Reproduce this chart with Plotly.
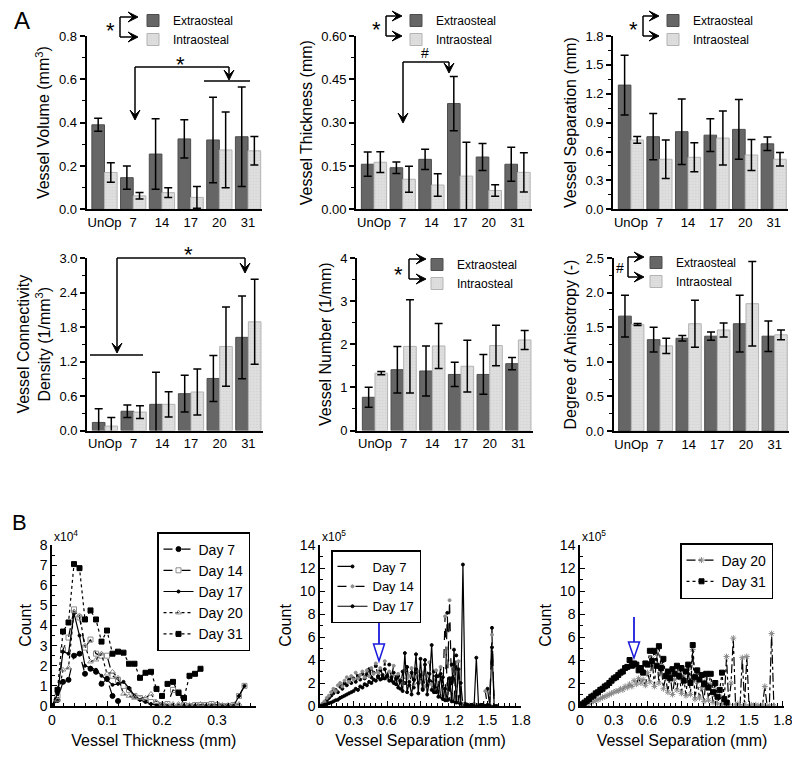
import plotly.graph_objects as go

# ---------------- data: panel A (bar charts) ----------------
CATEGORIES = ["UnOp", "7", "14", "17", "20", "31"]
CAT_X = [0, 1, 2, 3, 4, 5]

VOLUME_EXTRA = [0.39, 0.146, 0.255, 0.325, 0.32, 0.335]
VOLUME_EXTRA_ERR = [0.03, 0.054, 0.163, 0.088, 0.197, 0.23]
VOLUME_INTRA = [0.17, 0.062, 0.077, 0.055, 0.274, 0.27]
VOLUME_INTRA_ERR = [0.045, 0.015, 0.022, 0.05, 0.175, 0.066]

THICK_EXTRA = [0.156, 0.144, 0.173, 0.366, 0.181, 0.156]
THICK_EXTRA_ERR = [0.042, 0.02, 0.035, 0.094, 0.047, 0.059]
THICK_INTRA = [0.163, 0.104, 0.084, 0.115, 0.065, 0.128]
THICK_INTRA_ERR = [0.036, 0.045, 0.039, 0.117, 0.02, 0.068]

SEP_EXTRA = [1.29, 0.754, 0.806, 0.77, 0.83, 0.68]
SEP_EXTRA_ERR = [0.31, 0.24, 0.34, 0.17, 0.31, 0.07]
SEP_INTRA = [0.72, 0.52, 0.54, 0.74, 0.564, 0.52]
SEP_INTRA_ERR = [0.035, 0.2, 0.15, 0.28, 0.16, 0.07]

CONN_EXTRA = [0.14, 0.335, 0.455, 0.64, 0.905, 1.62]
CONN_EXTRA_ERR = [0.24, 0.11, 0.56, 0.32, 0.4, 0.72]
CONN_INTRA = [0.077, 0.32, 0.455, 0.67, 1.46, 1.89]
CONN_INTRA_ERR = [0.15, 0.11, 0.22, 0.4, 0.69, 0.74]

NUM_EXTRA = [0.77, 1.41, 1.38, 1.3, 1.3, 1.55]
NUM_EXTRA_ERR = [0.23, 0.54, 0.58, 0.28, 0.46, 0.14]
NUM_INTRA = [1.33, 1.95, 1.96, 1.49, 1.97, 2.1]
NUM_INTRA_ERR = [0.04, 1.08, 0.52, 0.6, 0.47, 0.22]

DA_EXTRA = [1.66, 1.32, 1.34, 1.37, 1.55, 1.37]
DA_EXTRA_ERR = [0.3, 0.18, 0.04, 0.06, 0.41, 0.22]
DA_INTRA = [1.54, 1.23, 1.55, 1.46, 1.84, 1.39]
DA_INTRA_ERR = [0.015, 0.11, 0.34, 0.1, 0.61, 0.07]

# ---------------- data: panel B (histograms) ----------------
# Vessel thickness histogram, counts in units of 1e4
THICK_BINS = [0.00, 0.01, 0.02, 0.03, 0.04, 0.05, 0.06, 0.07, 0.08, 0.09,
              0.10, 0.11, 0.12, 0.13, 0.14, 0.15, 0.16, 0.17, 0.18, 0.19,
              0.20, 0.21, 0.22, 0.23, 0.24, 0.25, 0.26, 0.27, 0.28, 0.29,
              0.30, 0.31, 0.32, 0.33, 0.34, 0.35]
TH_DAY7 = [0, 0.3, 1.2, 1.3, 2.5, 2.6, 1.6, 1.85, 1.7, 1.1, 1.35, 0.5, 0.25]
TH_DAY14 = [0, 0.5, 2.8, 3.4, 4.8, 4.4, 2.9, 3.3, 2.6, 2.5, 2.5, 1.5, 1.3, 1.0,
            0.8, 0.5, 0.4, 0.3, 0.2, 0.1, 0.05, 0.1, 0.8, 0.7, 0.05, 0.0, 0.05,
            0.05, 0.05, 0.1, 0.05, 0.0, 0.0, 0.05, 0.5, 1.0]
TH_DAY17 = [0, 0.6, 2.7, 2.6, 4.6, 3.5, 2.0, 1.9, 1.8, 1.5, 1.3, 1.05, 1.1, 1.2,
            0.9, 0.5, 0.3, 0.2, 0.1, 0.05, 0.0, 0.0, 0.0, 0.0, 0.0, 0.0, 0.0,
            0.0, 0.0, 0.0, 0.0, 0.0, 0.0, 0.0, 0.5, 1.0]
TH_DAY20 = [0, 0.3, 1.8, 1.9, 4.7, 4.5, 3.0, 2.2, 2.3, 2.6, 1.6, 1.7, 1.4, 0.6,
            0.5, 0.4, 0.4, 0.4, 0.6, 0.2, 0.1, 0.05, 0.1, 0.1, 0.05, 0.05, 0.05,
            0.1, 0.05, 0.05, 0.1, 0.05, 0.05, 0.05, 0.1]
TH_DAY31 = [0, 0.8, 3.7, 4.15, 7.05, 6.85, 4.3, 4.75, 4.3, 3.2, 3.75, 2.6, 2.7,
            2.65, 2.1, 2.1, 1.4, 1.65, 1.7, 0.85, 0.5, 1.1, 1.2, 0.65, 0.4, 1.5,
            1.6, 1.85]

# Vessel separation histograms, counts in units of 1e5
SEP_BINS = [0.00, 0.02, 0.04, 0.06, 0.08, 0.10, 0.12, 0.14, 0.16, 0.18,
            0.20, 0.22, 0.24, 0.26, 0.28, 0.30, 0.32, 0.34, 0.36, 0.38,
            0.40, 0.42, 0.44, 0.46, 0.48, 0.50, 0.52, 0.54, 0.56, 0.58,
            0.60, 0.62, 0.64, 0.66, 0.68, 0.70, 0.72, 0.74, 0.76, 0.78,
            0.80, 0.82, 0.84, 0.86, 0.88, 0.90, 0.92, 0.94, 0.96, 0.98,
            1.00, 1.02, 1.04, 1.06, 1.08, 1.10, 1.12, 1.14, 1.16, 1.18,
            1.20, 1.22, 1.24, 1.26, 1.28, 1.30, 1.32, 1.34, 1.36, 1.38,
            1.40, 1.42, 1.44, 1.46, 1.48, 1.50, 1.52, 1.54, 1.56, 1.58,
            1.60, 1.62, 1.64, 1.66, 1.68, 1.70, 1.72]
SP_DAY7 = [0, 0.1, 0.3, 0.5, 0.7, 0.9, 1.1, 1.4, 1.2, 1.7, 1.5, 2.0, 1.8, 2.3,
           2.0, 2.4, 2.1, 2.6, 2.3, 2.8, 2.4, 2.7, 3.2, 2.5, 2.9, 3.5, 2.6, 3.1,
           2.4, 3.2, 2.5, 3.6, 2.2, 2.9, 1.9, 2.6, 1.5, 3.0, 2.0, 3.4, 1.8, 2.9,
           1.6, 3.2, 2.0, 2.7, 1.5, 3.6, 1.8, 2.8, 1.4, 3.0, 1.2, 2.6, 0.8, 2.5,
           0.5, 8.1, 0.6, 3.6, 0.4, 4.4, 0.3, 2.0, 0.1, 0.2, 0.1, 0.1, 0.0, 0.1,
           0.0, 0.1, 0.0, 0.1, 0.0, 1.5, 0.0, 6.8, 0.0, 0.0]
SP_DAY14 = [0, 0.2, 0.4, 0.7, 0.9, 1.2, 1.5, 1.3, 1.8, 2.0, 1.7, 2.2, 2.5, 2.1,
            2.6, 2.3, 2.9, 2.4, 2.7, 3.0, 2.5, 3.1, 2.6, 3.3, 2.8, 3.7, 2.9, 3.3,
            2.7, 3.9, 2.4, 3.0, 2.6, 3.5, 2.2, 2.8, 2.3, 2.0, 3.1, 2.4, 2.6, 3.3,
            1.9, 2.5, 3.0, 2.1, 2.9, 1.7, 2.6, 3.8, 1.9, 2.3, 3.1, 1.5, 3.4, 0.9,
            7.8, 1.1, 9.2, 0.7, 3.0, 0.5, 3.9, 0.3, 0.2, 0.1, 0.0, 0.1, 0.0, 0.2,
            0.0, 0.1, 0.0, 0.0, 1.3, 0.0, 0.1, 6.2, 0.0, 0.0]
SP_DAY17 = [0, 0.05, 0.1, 0.15, 0.25, 0.3, 0.4, 0.5, 0.55, 0.7, 0.8, 0.9, 1.0,
            1.1, 1.2, 1.3, 1.5, 1.4, 1.7, 1.6, 1.9, 1.8, 2.1, 2.0, 2.3, 2.2, 2.5,
            2.3, 2.7, 2.4, 2.6, 2.2, 2.5, 2.0, 2.4, 1.6, 2.2, 1.3, 4.6, 1.2, 2.1,
            1.0, 2.3, 4.5, 1.1, 4.1, 1.4, 4.0, 1.0, 2.2, 5.3, 1.2, 2.6, 0.8, 2.8,
            0.6, 1.5, 0.5, 2.4, 0.4, 4.9, 0.3, 3.2, 0.2, 12.3, 0.1, 0.1, 0.0, 0.1,
            0.0, 4.2, 0.0, 0.1, 0.0, 0.0, 0.1, 0.0, 5.1, 0.0, 0.0]
SP_DAY20 = [0, 0.05, 0.1, 0.2, 0.25, 0.35, 0.4, 0.5, 0.55, 0.65, 0.75, 0.8, 0.9,
            1.0, 1.1, 1.2, 1.3, 1.3, 1.5, 1.4, 1.7, 1.6, 1.9, 1.7, 2.2, 1.9, 2.4,
            2.0, 2.3, 1.8, 2.9, 2.1, 4.1, 1.7, 4.5, 2.0, 3.6, 1.5, 2.5, 1.2, 2.8,
            1.0, 2.3, 1.4, 2.9, 1.1, 2.6, 0.9, 3.2, 1.0, 4.9, 0.6, 2.1, 0.7, 1.6,
            0.4, 2.6, 0.5, 1.9, 0.3, 1.4, 0.2, 0.9, 0.1, 0.5, 4.3, 0.1, 2.0, 5.9,
            0.1, 0.2, 0.0, 4.2, 0.1, 4.3, 0.0, 0.1, 0.0, 0.1, 0.0, 0.0, 0.1, 1.7,
            0.0, 0.0, 6.3, 0.0]
SP_DAY31 = [0, 0.15, 0.3, 0.45, 0.6, 0.8, 0.9, 1.1, 1.2, 1.4, 1.5, 1.7, 1.8, 2.0,
            2.2, 2.4, 2.5, 2.7, 2.9, 3.0, 3.3, 3.4, 4.0, 3.5, 3.7, 3.6, 3.1, 3.3,
            2.9, 3.7, 3.6, 4.8, 3.9, 4.8, 3.5, 5.2, 3.3, 4.1, 2.6, 3.0, 2.4, 3.2,
            2.8, 3.5, 2.6, 3.3, 2.2, 3.0, 3.6, 2.0, 5.3, 2.5, 3.1, 2.3, 2.7, 1.9,
            2.8, 1.6, 2.8, 1.2, 2.0, 0.8, 1.4, 2.9, 0.6, 0.3]

SEP_TICKS = [0, 0.3, 0.6, 0.9, 1.2, 1.5, 1.8]
SEP_TICK_TEXT = ["0", "0.3", "0.6", "0.9", "1.2", "1.5", "1.8"]

# ---------------- styling / layout helpers ----------------
# the page body has an 8px margin; coordinates below are page pixels
OFF = 8
W, H = 800 - OFF, 757 - 2 * OFF
FONT = "Arial, 'Liberation Sans', sans-serif"
DARK, DARK_EDGE = "#666666", "#4d4d4d"
LIGHT, LIGHT_EDGE = "#dedede", "#b3b3b3"


def px(x):
    return (x - OFF) / W


def py(y):
    return 1 - (y - OFF) / H


fig = go.Figure()
shapes = []
annotations = []

bar_panels = [
    # n, extra, extra_err, intra, intra_err, ymax, dtick, minor, fmt, title, xdom(px), ydom(px), legend
    (1, VOLUME_EXTRA, VOLUME_EXTRA_ERR, VOLUME_INTRA, VOLUME_INTRA_ERR, 0.8, 0.2, 0.1, ".1f",
     "Vessel Volume (mm<sup>3</sup>)", (86.7, 262.4), (36, 209.3), "legend4"),
    (2, THICK_EXTRA, THICK_EXTRA_ERR, THICK_INTRA, THICK_INTRA_ERR, 0.6, 0.15, 0.075, ".2f",
     "Vessel Thickness (mm)", (356.2, 531.9), (36, 209.3), "legend5"),
    (3, SEP_EXTRA, SEP_EXTRA_ERR, SEP_INTRA, SEP_INTRA_ERR, 1.8, 0.3, 0.15, ".1f",
     "Vessel Separation (mm)", (613.2, 788), (36, 209.3), "legend6"),
    (4, CONN_EXTRA, CONN_EXTRA_ERR, CONN_INTRA, CONN_INTRA_ERR, 3.0, 0.6, 0.3, ".1f",
     "Vessel Connectivity<br>Density (1/mm<sup>3</sup>)", (87.2, 262.7), (258, 430.5), None),
    (5, NUM_EXTRA, NUM_EXTRA_ERR, NUM_INTRA, NUM_INTRA_ERR, 4.0, 1.0, 0.5, "d",
     "Vessel Number (1/mm)", (357.2, 532.7), (258, 430.5), "legend7"),
    (6, DA_EXTRA, DA_EXTRA_ERR, DA_INTRA, DA_INTRA_ERR, 2.5, 0.5, 0.25, ".1f",
     "Degree of Anisotropy (-)", (613.5, 789), (258, 431), "legend8"),
]

layout_axes = {}
for (n, ex, exe, inn, ine, ymax, dt, mdt, fmt, title, xd, yd, leg) in bar_panels:
    xa = "x" if n == 1 else f"x{n}"
    ya = "y" if n == 1 else f"y{n}"
    show = leg is not None
    fig.add_trace(go.Bar(
        x=CAT_X, y=ex, name="Extraosteal", xaxis=xa, yaxis=ya, offsetgroup="e",
        marker=dict(color=DARK, line=dict(color=DARK_EDGE, width=1)),
        error_y=dict(type="data", array=exe, color="black", thickness=1.5, width=4),
        showlegend=show, legend=leg if show else "legend"))
    fig.add_trace(go.Bar(
        x=CAT_X, y=inn, name="Intraosteal", xaxis=xa, yaxis=ya, offsetgroup="i",
        marker=dict(color=LIGHT, line=dict(color=LIGHT_EDGE, width=1),
                    pattern=dict(shape=".", fgcolor="#c4c4c4", size=3, solidity=0.15)),
        error_y=dict(type="data", array=ine, color="black", thickness=1.5, width=4),
        showlegend=show, legend=leg if show else "legend"))
    xname = "xaxis" if n == 1 else f"xaxis{n}"
    yname = "yaxis" if n == 1 else f"yaxis{n}"
    layout_axes[xname] = dict(
        domain=[px(xd[0]), px(xd[1])], anchor=ya, range=[-0.62, 5.5],
        tickmode="array", tickvals=CAT_X, ticktext=CATEGORIES, ticks="",
        showline=True, linecolor="black", linewidth=2, showgrid=False, zeroline=False,
        tickfont=dict(size=13, color="black", family=FONT))
    layout_axes[yname] = dict(
        domain=[py(yd[1]), py(yd[0])], anchor=xa, range=[0, ymax], dtick=dt, tick0=0,
        tickformat=fmt, ticks="outside", ticklen=5, tickwidth=1.5, tickcolor="black",
        minor=dict(ticks="outside", ticklen=3, tickwidth=1, dtick=mdt, tickcolor="black"),
        showline=True, linecolor="black", linewidth=2, showgrid=False, zeroline=False,
        tickfont=dict(size=13, color="black", family=FONT),
        title=dict(text=title, font=dict(size=16, color="black", family=FONT), standoff=5))

# ---------------- histograms ----------------
line_panels = [
    (7, (52, 255.5), [0, 0.37], 0.1, 0.02, "Vessel Thickness (mm)", [0, 8], 1, 0.5),
    (8, (320, 521), [0, 1.8], 0.3, 0.05, "Vessel Separation (mm)", [0, 14], 2, 1),
    (9, (580, 784), [0, 1.81], 0.3, 0.05, "Vessel Separation (mm)", [0, 14], 2, 1),
]
for (n, xd, xr, dt, mdt, xt, yr, ydt, ymdt) in line_panels:
    xdict = dict(
        domain=[px(xd[0]), px(xd[1])], anchor=f"y{n}", range=xr,
        ticks="inside", ticklen=5, tickwidth=1.2, tickcolor="black",
        minor=dict(ticks="inside", ticklen=3, dtick=mdt, tick0=0, tickcolor="black"),
        showline=True, linecolor="black", linewidth=1.5, showgrid=False, zeroline=False,
        ticklabeloverflow="allow",
        tickfont=dict(size=14, color="black", family=FONT),
        title=dict(text=xt, font=dict(size=16, color="black", family=FONT), standoff=8))
    if n == 7:
        xdict.update(dtick=dt, tick0=0)
    else:
        xdict.update(tickmode="array", tickvals=SEP_TICKS, ticktext=SEP_TICK_TEXT)
    layout_axes[f"xaxis{n}"] = xdict
    layout_axes[f"yaxis{n}"] = dict(
        domain=[py(706), py(545)], anchor=f"x{n}", range=yr, dtick=ydt, tick0=0,
        ticks="inside", ticklen=5, tickwidth=1.2, tickcolor="black",
        minor=dict(ticks="inside", ticklen=3, dtick=ymdt, tickcolor="black"),
        showline=True, linecolor="black", linewidth=1.5, showgrid=False, zeroline=False,
        tickfont=dict(size=14, color="black", family=FONT),
        title=dict(text="Count", font=dict(size=16, color="black", family=FONT), standoff=4))


def hist(x, y, name, xa, ya, leg, dash, msym, mcol, msize):
    fig.add_trace(go.Scatter(
        x=x[:len(y)], y=y, name=name, xaxis=xa, yaxis=ya, legend=leg,
        mode="lines+markers", line=dict(color="black", width=1.2, dash=dash),
        marker=dict(symbol=msym, color=mcol, size=msize, line=dict(color=mcol, width=1))))


hist(THICK_BINS, TH_DAY7, "Day 7", "x7", "y7", "legend", "dash", "circle", "black", 5)
hist(THICK_BINS, TH_DAY14, "Day 14", "x7", "y7", "legend", "dash", "square-open", "#8c8c8c", 5)
hist(THICK_BINS, TH_DAY17, "Day 17", "x7", "y7", "legend", "solid", "circle", "black", 3)
hist(THICK_BINS, TH_DAY20, "Day 20", "x7", "y7", "legend", "dot", "triangle-up-open", "#8c8c8c", 5)
hist(THICK_BINS, TH_DAY31, "Day 31", "x7", "y7", "legend", "dot", "square", "black", 5)

hist(SEP_BINS, SP_DAY7, "Day 7", "x8", "y8", "legend2", "longdash", "circle", "black", 3)
hist(SEP_BINS, SP_DAY14, "Day 14", "x8", "y8", "legend2", "dash", "circle", "#8c8c8c", 3)
hist(SEP_BINS, SP_DAY17, "Day 17", "x8", "y8", "legend2", "solid", "circle", "black", 3)

hist(SEP_BINS, SP_DAY20, "Day 20", "x9", "y9", "legend3", "dashdot", "asterisk-open", "#8c8c8c", 5)
hist(SEP_BINS, SP_DAY31, "Day 31", "x9", "y9", "legend3", "dot", "square", "black", 5)

# ---------------- legends ----------------
box_leg = dict(bgcolor="white", bordercolor="black", borderwidth=1.5,
               font=dict(size=14, color="black", family=FONT),
               xanchor="left", yanchor="top", tracegroupgap=0)
legends = {
    "legend": dict(box_leg, x=px(157), y=py(532)),
    "legend2": dict(box_leg, x=px(331), y=py(550), font=dict(size=13, color="black", family=FONT)),
    "legend3": dict(box_leg, x=px(680), y=py(543)),
}
bar_leg_pos = {"legend4": (133, 6), "legend5": (396, 6), "legend6": (653, 6),
               "legend7": (417, 250), "legend8": (636, 248)}
for k, (lx, ly) in bar_leg_pos.items():
    legends[k] = dict(x=px(lx), y=py(ly), xanchor="left", yanchor="top",
                      bgcolor="rgba(0,0,0,0)", borderwidth=0, tracegroupgap=0,
                      font=dict(size=12, color="black", family=FONT))


# ---------------- annotation helpers ----------------
def seg(x0, y0, x1, y1, color="black", w=1.5):
    shapes.append(dict(type="line", xref="paper", yref="paper",
                       x0=px(x0), y0=py(y0), x1=px(x1), y1=py(y1),
                       line=dict(color=color, width=w)))


def poly(points, color="black", fill="black", w=1):
    d = "M" + " L".join(f"{px(a)},{py(b)}" for a, b in points) + " Z"
    shapes.append(dict(type="path", xref="paper", yref="paper", path=d,
                       line=dict(color=color, width=w), fillcolor=fill))


def head_down(x, y):
    poly([(x, y), (x - 5, y - 10), (x, y - 5), (x + 5, y - 10)])


def head_right(x, y):
    poly([(x, y), (x - 10, y - 5), (x - 5, y), (x - 10, y + 5)])


def arrow_down(x, ytip, ytail):
    seg(x, ytail, x, ytip - 3)
    head_down(x, ytip)


def arrow_right(xtip, xtail, y):
    seg(xtail, y, xtip - 3, y)
    head_right(xtip, y)


def label(x, y, s, size, xanchor="center", yanchor="middle"):
    annotations.append(dict(xref="paper", yref="paper", x=px(x), y=py(y), text=s,
                            showarrow=False, xanchor=xanchor, yanchor=yanchor,
                            font=dict(size=size, color="black", family=FONT)))


def legend_bracket(xv, y0, y1, xtip, sym, sx, sy, size):
    seg(xv, y0, xv, y1)
    arrow_right(xtip, xv, y0)
    arrow_right(xtip, xv, y1)
    label(sx, sy, sym, size)


legend_bracket(120, 17, 37, 138, "*", 110, 31, 22)
legend_bracket(386, 16, 36, 402, "*", 376, 30, 22)
legend_bracket(643, 16, 36, 659, "*", 633, 30, 22)
legend_bracket(409, 259, 279, 426, "*", 398, 274, 22)
legend_bracket(628, 257, 277, 644, "#", 620, 268, 14)

# significance brackets
seg(135, 67, 229, 67)
arrow_down(135, 120, 67)
arrow_down(229, 80, 67)
seg(204, 81, 250, 81)
label(180, 64, "*", 22)

seg(403, 62, 449, 62)
arrow_down(403, 123, 62)
arrow_down(449, 73, 62)
label(425, 53, "#", 14)

seg(117, 258, 245, 258)
arrow_down(117, 353, 258)
arrow_down(245, 273, 258)
seg(90, 355, 143, 355)
label(188, 255, "*", 22)

# blue arrows (hollow heads)
for (bx, y0, y1, y2) in [(379, 621, 644, 661), (634, 617, 642, 658)]:
    seg(bx, y0, bx, y1, color="#1a1adb", w=1.8)
    poly([(bx - 5.5, y1), (bx + 5.5, y1), (bx, y2)], color="#1a1adb", fill="white", w=1.5)

# multipliers and panel letters
label(52, 546, "x10<sup>4</sup>", 12, xanchor="left", yanchor="bottom")
label(320, 546, "x10<sup>5</sup>", 12, xanchor="left", yanchor="bottom")
label(580, 546, "x10<sup>5</sup>", 12, xanchor="left", yanchor="bottom")
label(22, 20, "A", 24)
label(19, 522, "B", 22)

fig.update_layout(
    width=W, height=H, margin=dict(l=0, r=0, t=0, b=0, autoexpand=False),
    paper_bgcolor="white", plot_bgcolor="white",
    barmode="group", bargap=0.12, bargroupgap=0.0,
    font=dict(family=FONT, color="black"),
    shapes=shapes, annotations=annotations,
    **layout_axes, **legends)

fig.write_html("out.html")
